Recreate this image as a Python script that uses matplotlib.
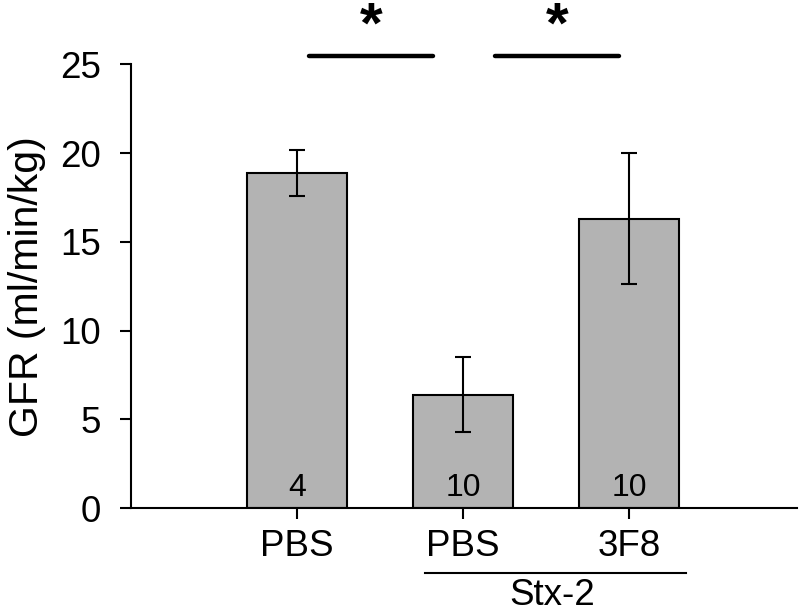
import matplotlib
matplotlib.use("Agg")
from matplotlib import pyplot as plt

plt.rcParams['font.family'] = ['Liberation Sans', 'DejaVu Sans']

groups = ['PBS', 'PBS', '3F8']
gfr = [18.9, 6.4, 16.3]
sem = [1.3, 2.1, 3.7]
n_counts = ['4', '10', '10']
# significance brackets: (start, end) positions in bar units
sig_pairs = [(0.07, 0.82), (1.19, 1.94)]
sig_height = 25.45
group_label = 'Stx-2'

fig = plt.figure(figsize=(8, 6.16), dpi=100)
ax = fig.add_axes([0.164, 0.175, 0.832, 0.7206])

x = list(range(len(groups)))
ax.bar(x, gfr, width=0.6, color='#b3b3b3', edgecolor='black', linewidth=1.5, zorder=2)
ax.errorbar(x, gfr, yerr=sem, fmt='none', ecolor='black', elinewidth=1.5,
            capsize=6, capthick=1.5, zorder=3)

for xi, n in zip(x, n_counts):
    ax.text(xi, 0.7, n, ha='center', va='baseline', fontsize=23)

ax.set_xlim(-1.0, 3.01)
ax.set_ylim(0, 25)
ax.set_yticks([0, 5, 10, 15, 20, 25])
ax.set_xticks(x)
ax.set_xticklabels(groups)
ax.tick_params(axis='y', labelsize=26.5, width=1.5, length=8, direction='out', pad=14)
ax.tick_params(axis='x', labelsize=26.5, width=1.5, length=8, direction='out', pad=7)
ax.set_ylabel('GFR (ml/min/kg)', fontsize=29.5, labelpad=10)

for side in ['top', 'right']:
    ax.spines[side].set_visible(False)
for side in ['left', 'bottom']:
    ax.spines[side].set_linewidth(1.5)

# significance lines and stars
for a, b in sig_pairs:
    ax.plot([a, b], [sig_height, sig_height], color='black', linewidth=3.2,
            solid_capstyle='round', clip_on=False)
    ax.text((a + b) / 2, 26.2, '*', ha='center', va='baseline',
            fontsize=42, fontweight='bold', clip_on=False)

# group line under Stx-2 bars
ax.plot([0.77, 2.34], [-3.67, -3.67], color='black', linewidth=1.5, clip_on=False)
ax.text(1.535, -3.95, group_label, ha='center', va='top', fontsize=26.5)

fig.savefig('out.png', dpi=100)
